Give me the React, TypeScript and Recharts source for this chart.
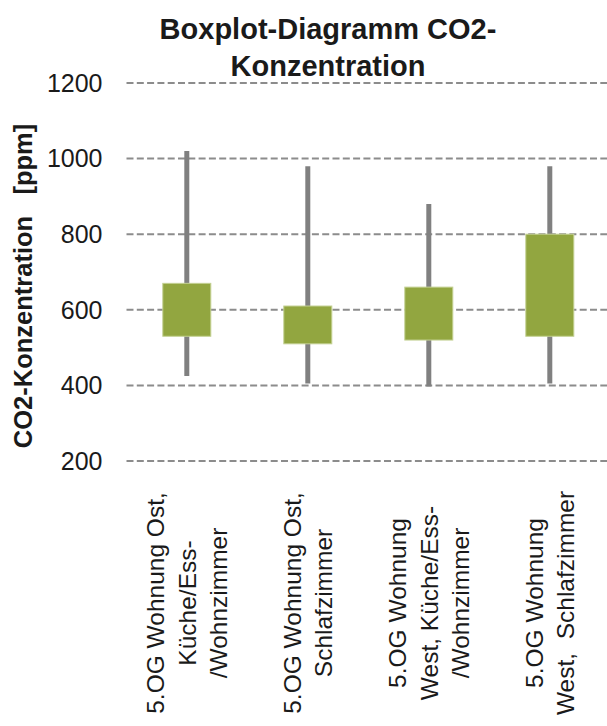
import React from "react";
import { ComposedChart, Bar, XAxis, YAxis, CartesianGrid } from "recharts";

const rooms = [
  ["5.OG Wohnung Ost,", "Küche/Ess-", "/Wohnzimmer"],
  ["5.OG Wohnung Ost,", "Schlafzimmer"],
  ["5.OG Wohnung", "West, Küche/Ess-", "/Wohnzimmer"],
  ["5.OG Wohnung", "West,  Schlafzimmer"],
];
const minVals = [425, 405, 397, 405];
const q1Vals = [530, 510, 520, 530];
const q3Vals = [670, 610, 660, 800];
const maxVals = [1020, 980, 880, 980];
const yTicks = [200, 400, 600, 800, 1000, 1200];

const titleLines = ["Boxplot-Diagramm CO2-", "Konzentration"];
const yLabel = "CO2-Konzentration   [ppm]";

const FONT = '"Liberation Sans", Arial, sans-serif';

const data = rooms.map((r, i) => ({
  name: r.join("|"),
  whisker: [minVals[i], maxVals[i]],
  box: [q1Vals[i], q3Vals[i]],
}));

const WhiskerShape = (props: any) => {
  const { x, y, width, height } = props;
  const cx = x + width / 2;
  const top = Math.min(y, y + height);
  const bottom = Math.max(y, y + height);
  return <line x1={cx} x2={cx} y1={top} y2={bottom} stroke="#808080" strokeWidth={5} />;
};

const BoxShape = (props: any) => {
  const { x, y, width, height } = props;
  const top = Math.min(y, y + height);
  return (
    <rect x={x} y={top} width={width} height={Math.abs(height)} fill="#92a640" stroke="#c3d092" strokeWidth={1} />
  );
};

const RoomTick = (props: any) => {
  const { x, y, payload } = props;
  const lines: string[] = String(payload.value).split("|");
  const fs = 24.5;
  const lh = 31.5;
  return (
    <g transform={`translate(${x},${y + 142})`}>
      <text
        transform="rotate(-90)"
        textAnchor="middle"
        fontSize={fs}
        fontFamily={FONT}
        fill="#1a1a1a"
        style={{ whiteSpace: "pre" }}
      >
        {lines.map((l, i) => (
          <tspan key={i} x={0} y={(i - (lines.length - 1) / 2) * lh + 0.35 * fs}>
            {l}
          </tspan>
        ))}
      </text>
    </g>
  );
};

export default function App() {
  return (
    <div
      style={{
        position: "absolute",
        left: 0,
        top: 0,
        width: 607,
        height: 726,
        overflow: "hidden",
        background: "#fff",
      }}
    >
      <ComposedChart
        width={612}
        height={726}
        data={data}
        margin={{ top: 83, right: 1.5, left: 0, bottom: 0 }}
        barCategoryGap="30%"
      >
        <CartesianGrid
          xAxisId="box"
          vertical={false}
          stroke="#8c8c8c"
          strokeWidth={2}
          strokeDasharray="7 3.3"
        />
        <XAxis
          xAxisId="box"
          dataKey="name"
          type="category"
          axisLine={false}
          tickLine={false}
          tickSize={0}
          tickMargin={0}
          height={265}
          interval={0}
          tick={<RoomTick />}
        />
        <XAxis xAxisId="whisk" dataKey="name" type="category" hide />
        <YAxis
          domain={[200, 1200]}
          ticks={yTicks}
          allowDataOverflow
          axisLine={false}
          tickLine={false}
          tickSize={0}
          tickMargin={24}
          width={126.5}
          tick={{ fill: "#1a1a1a", fontSize: 25, fontFamily: FONT }}
        />
        <Bar xAxisId="whisk" dataKey="whisker" shape={<WhiskerShape />} isAnimationActive={false} />
        <Bar xAxisId="box" dataKey="box" shape={<BoxShape />} isAnimationActive={false} />
      </ComposedChart>
      <svg
        width={607}
        height={726}
        style={{ position: "absolute", left: 0, top: 0, pointerEvents: "none" }}
      >
        <text x={328} y={38.7} textAnchor="middle" fontSize={29} fontWeight="bold" fontFamily={FONT} fill="#1a1a1a">
          {titleLines[0]}
        </text>
        <text x={328} y={75.5} textAnchor="middle" fontSize={29} fontWeight="bold" fontFamily={FONT} fill="#1a1a1a">
          {titleLines[1]}
        </text>
        <text
          transform="translate(32,286) rotate(-90)"
          textAnchor="middle"
          fontSize={25.5}
          fontWeight="bold"
          fontFamily={FONT}
          fill="#1a1a1a"
          style={{ whiteSpace: "pre" }}
        >
          {yLabel}
        </text>
      </svg>
    </div>
  );
}
